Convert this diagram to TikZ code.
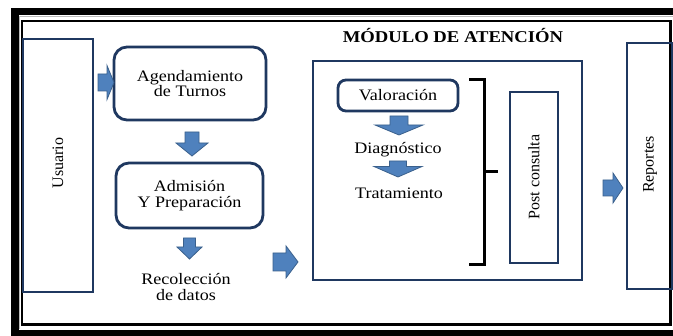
\documentclass[tikz,border=0pt]{standalone}
\usepackage{fontspec}
\setmainfont{Liberation Serif}[FakeStretch=1.13]
\newfontfamily\vertfont{Liberation Serif}
\definecolor{navy}{RGB}{31,56,96}
\definecolor{arrfill}{RGB}{79,129,189}
\definecolor{arredge}{RGB}{58,96,140}
\newcommand\darrow[6]{% cx, ytop, ybase, ytip, shaft half, head half
  \path[blockarrow] (#1-#5,#2) -- (#1+#5,#2) -- (#1+#5,#3) -- (#1+#6,#3) -- (#1,#4) -- (#1-#6,#3) -- (#1-#5,#3) -- cycle;}
\newcommand\rarrow[6]{% cy, xleft, xbase, xtip, shaft half, head half
  \path[blockarrow] (#2,#1-#5) -- (#2,#1+#5) -- (#3,#1+#5) -- (#3,#1+#6) -- (#4,#1) -- (#3,#1-#6) -- (#3,#1-#5) -- cycle;}
\tikzset{
  blockarrow/.style={fill=arrfill, draw=arredge, line width=0.8pt, line join=miter},
  txt/.style={inner sep=0pt, align=center, font=\fontsize{16}{15.5}\selectfont},
  vtxt/.style={inner sep=0pt, rotate=90, font=\vertfont\fontsize{16}{16}\selectfont},
  sqbox/.style={draw=navy, line width=2.6pt, inner sep=0pt},
  rbox/.style={draw=navy, line width=2.8pt, rounded corners=13pt, inner sep=0pt, align=center, font=\fontsize{16}{15.5}\selectfont},
}
\begin{document}
\begin{tikzpicture}[x=1pt, y=-1pt]
\useasboundingbox (0,0) rectangle (673,336);
\fill[white] (0,0) rectangle (673,336);
% frame
\draw[line width=7.5pt] (15,11.5) rectangle (690,333.5);
\draw[gray!55, line width=0.7pt] (19.8,329) -- (19.8,16.4) -- (673,16.4);
\draw[line width=2.4pt] (22,21.3) rectangle (670.6,324.6);
% left column
\node[sqbox, minimum width=70pt, minimum height=253pt] (usuario) at (58,165.5) {};
\node[vtxt] (usuariotxt) at (58,163) {Usuario};
\node[rbox, minimum width=152pt, minimum height=73pt] (agend) at (190,83.5) {Agendamiento\\de Turnos};
\node[rbox, minimum width=147pt, minimum height=65pt] (admis) at (189.5,195.5) {Admisión\\Y Preparación};
\node[txt] (recol) at (186,287) {Recolección\\de datos};
% module
\node[txt, font=\bfseries\fontsize{16.5}{16.5}\selectfont, anchor=base] (title) at (453,43) {MÓDULO DE ATENCIÓN};
\node[draw=navy, line width=2.2pt, minimum width=269pt, minimum height=219pt, inner sep=0pt] (modulo) at (447.5,170.5) {};
\node[rbox, rounded corners=8pt, minimum width=120pt, minimum height=31pt] (valor) at (398,95.5) {Valoración};
\node[txt, anchor=base] (diag) at (398,154) {Diagnóstico};
\node[txt, anchor=base] (trat) at (399,199) {Tratamiento};
\coordinate (brtop) at (469,80);
\coordinate (brbot) at (469,265);
\coordinate (brtick) at (498,172);
\draw[line width=3pt] (brtop) -- (484,80) -- (484,265) -- (brbot);
\draw[line width=3pt] (484,172) -- (brtick);
\node[sqbox, line width=2.4pt, minimum width=48pt, minimum height=171pt] (post) at (534,177.5) {};
\node[vtxt] (posttxt) at (534,177) {Post consulta};
% reportes
\node[sqbox, minimum width=45pt, minimum height=246pt] (rep) at (649.5,166) {};
\node[vtxt] (reptxt) at (650,164.5) {Reportes};
% block arrows
\rarrow{82.5}{98}{107}{114}{8.5}{17}
\darrow{192}{132}{143}{156}{7}{16}
\darrow{189.5}{238}{247}{259}{6}{12.5}
\rarrow{262}{273}{286}{298}{9}{16}
\darrow{399}{116}{125}{135}{9}{24}
\darrow{398}{161}{166.5}{177}{8.5}{24}
\rarrow{188}{603}{613}{623}{8}{15}
\end{tikzpicture}
\end{document}
